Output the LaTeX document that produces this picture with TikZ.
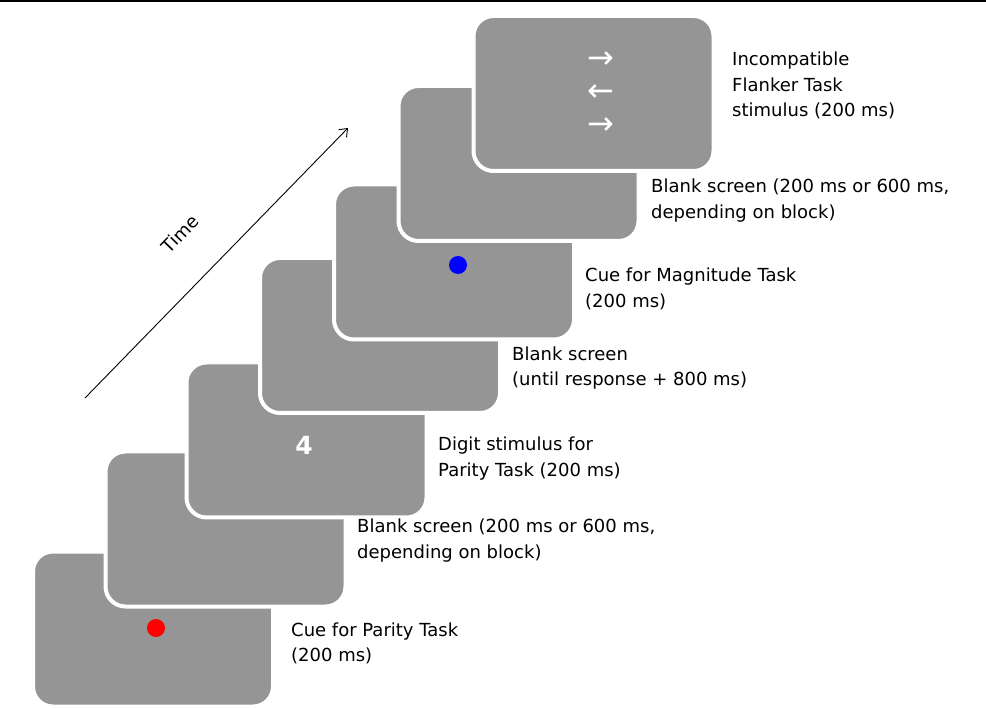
\documentclass[tikz,border=0pt]{standalone}
\usepackage{fontspec}
\setmainfont{DejaVu Sans}
\newfontfamily\arrowfont{DejaVu Sans}
\usetikzlibrary{arrows.meta}
\definecolor{cardgray}{RGB}{149,149,149}
\begin{document}
\begin{tikzpicture}[x=1pt,y=-1pt,
  card/.style={draw=white, line width=4pt, fill=cardgray, rounded corners=20pt,
    minimum width=240pt, minimum height=155pt, inner sep=0pt},
  lbl/.style={anchor=west, align=left, font=\fontsize{18}{25.5}\selectfont, inner sep=0pt},
  dot/.style={circle, inner sep=0pt, minimum size=18pt},
  glyph/.style={text=white, inner sep=0pt, font=\arrowfont\fontsize{32}{32}\selectfont}]
\useasboundingbox (0,0) rectangle (986,708);
\fill[black] (0,0) rectangle (986,2);
% cards, bottom to top
\node[card] (c1) at (153,629) {};
\node[card] (c2) at (225.5,529) {};
\node[card] (c3) at (306.5,440) {};
\node[card] (c4) at (380,335.5) {};
\node[card] (c5) at (454,262) {};
\node[card] (c6) at (518.5,163.5) {};
\node[card] (c7) at (593.5,93.5) {};
% contents
\node[dot, fill=red] (reddot) at (156,628) {};
\node[dot, fill={rgb,255:red,0;green,0;blue,255}] (bluedot) at (458,265) {};
\node[text=white, inner sep=0pt, font=\fontsize{25}{25}\selectfont\bfseries] (digit) at (304,445) {4};
\node[glyph] (ar1) at (601,60) {→};
\node[glyph] (ar2) at (601,93) {←};
\node[glyph] (ar3) at (601,126) {→};
% labels
\node[lbl] (l7) at (732,85.5) {Incompatible\\Flanker Task\\stimulus (200 ms)};
\node[lbl] (l6) at (651,200.5) {Blank screen (200 ms or 600 ms,\\depending on block)};
\node[lbl] (l5) at (585,289) {Cue for Magnitude Task\\(200 ms)};
\node[lbl] (l4) at (512,368) {Blank screen\\(until response + 800 ms)};
\node[lbl] (l3) at (438,458.5) {Digit stimulus for\\Parity Task (200 ms)};
\node[lbl] (l2) at (357,540.5) {Blank screen (200 ms or 600 ms,\\depending on block)};
\node[lbl] (l1) at (291,643.5) {Cue for Parity Task\\(200 ms)};
% time arrow
\coordinate (t0) at (85,398);
\coordinate (t1) at (348,128);
\draw[line width=0.9pt, -{Straight Barb[length=7pt,width=11pt]}] (t0) -- (t1);
\node[inner sep=0pt, rotate=46, font=\fontsize{18}{20}\selectfont] (time) at (180,234) {Time};
\end{tikzpicture}
\end{document}
